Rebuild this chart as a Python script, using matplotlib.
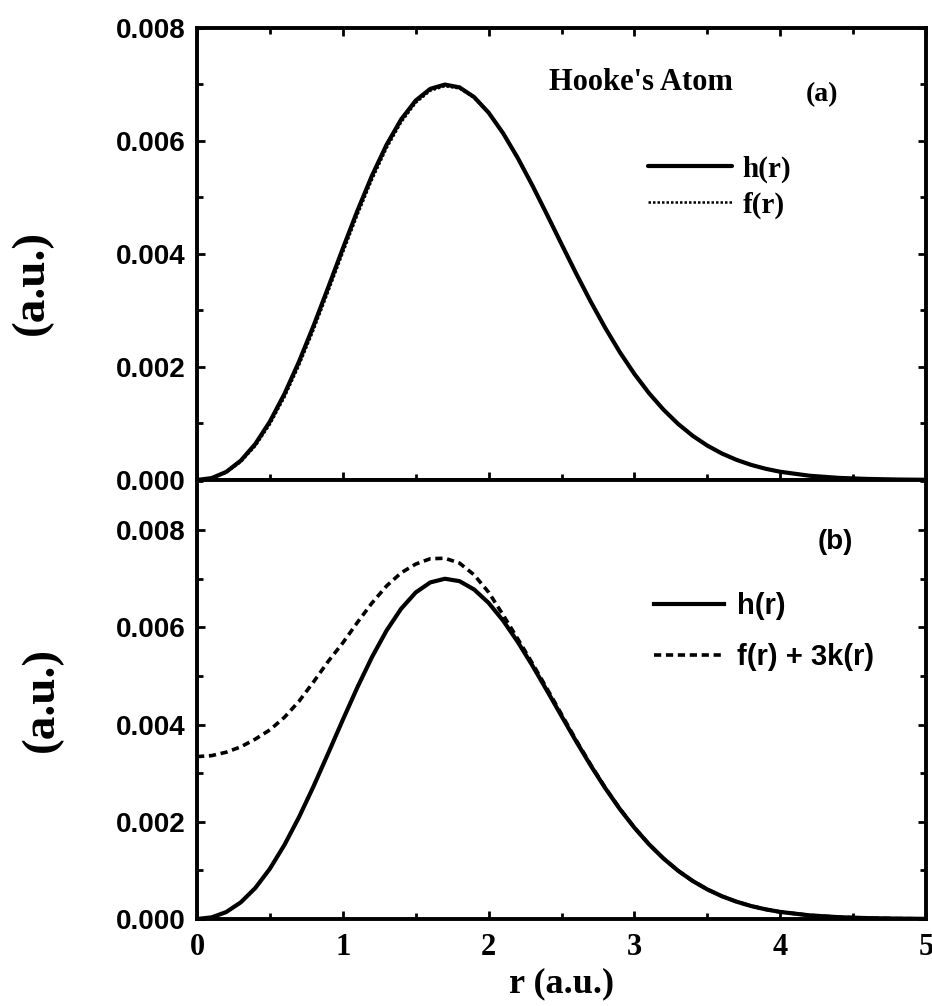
import numpy as np
import matplotlib.pyplot as plt
from matplotlib.ticker import MultipleLocator, FormatStrFormatter

# r grid (a.u.) and curves, values in units of 1e-3
r = [0.0, 0.1, 0.2, 0.3, 0.4, 0.5, 0.6, 0.7, 0.8, 0.9,
     1.0, 1.1, 1.2, 1.3, 1.4, 1.5, 1.6, 1.7, 1.8, 1.9,
     2.0, 2.1, 2.2, 2.3, 2.4, 2.5, 2.6, 2.7, 2.8, 2.9,
     3.0, 3.1, 3.2, 3.3, 3.4, 3.5, 3.6, 3.7, 3.8, 3.9,
     4.0, 4.2, 4.4, 4.6, 4.8, 5.0]

h_r = [0.000, 0.033, 0.142, 0.342, 0.638, 1.035, 1.526, 2.098, 2.734, 3.410,
       4.097, 4.765, 5.387, 5.933, 6.382, 6.716, 6.923, 6.998, 6.949, 6.778,
       6.501, 6.134, 5.698, 5.213, 4.698, 4.174, 3.655, 3.157, 2.690, 2.261,
       1.876, 1.536, 1.242, 0.991, 0.781, 0.608, 0.468, 0.356, 0.267, 0.198,
       0.145, 0.075, 0.037, 0.018, 0.008, 0.003]

f_r = [0.000, 0.030, 0.130, 0.318, 0.600, 0.985, 1.465, 2.030, 2.660, 3.335,
       4.020, 4.690, 5.315, 5.870, 6.330, 6.675, 6.890, 6.970, 6.930, 6.765,
       6.495, 6.134, 5.698, 5.213, 4.698, 4.174, 3.655, 3.157, 2.690, 2.261,
       1.876, 1.536, 1.242, 0.991, 0.781, 0.608, 0.468, 0.356, 0.267, 0.198,
       0.145, 0.075, 0.037, 0.018, 0.008, 0.003]

f3k_r = [3.340, 3.360, 3.430, 3.540, 3.700, 3.890, 4.150, 4.480, 4.880, 5.300,
         5.680, 6.100, 6.500, 6.850, 7.120, 7.300, 7.410, 7.420, 7.320, 7.080,
         6.720, 6.250, 5.760, 5.260, 4.740, 4.210, 3.680, 3.175, 2.700, 2.268,
         1.880, 1.538, 1.243, 0.991, 0.781, 0.608, 0.468, 0.356, 0.267, 0.198,
         0.145, 0.075, 0.037, 0.018, 0.008, 0.003]

r = np.array(r)
h_r = np.array(h_r) * 1e-3
f_r = np.array(f_r) * 1e-3
f3k_r = np.array(f3k_r) * 1e-3

SERIF = 'Liberation Serif'
SANS = 'Liberation Sans'

fig = plt.figure(figsize=(9.32, 10.06), dpi=100)
ax1 = fig.add_axes([0.2114, 0.5229, 0.7822, 0.4493])
ax2 = fig.add_axes([0.2114, 0.0865, 0.7822, 0.4364])


def style_axis(ax, ytop, show_top):
    ax.set_xlim(0, 5)
    ax.set_ylim(0, ytop)
    ax.xaxis.set_major_locator(MultipleLocator(1))
    ax.xaxis.set_minor_locator(MultipleLocator(0.5))
    ax.yaxis.set_major_locator(MultipleLocator(0.002))
    ax.yaxis.set_minor_locator(MultipleLocator(0.001))
    ax.yaxis.set_major_formatter(FormatStrFormatter('%.3f'))
    for s in ax.spines.values():
        s.set_linewidth(2.8)
    ax.tick_params(which='both', direction='in', right=True, top=show_top,
                   width=2.0)
    ax.tick_params(which='major', length=6)
    ax.tick_params(which='minor', length=4)
    ax.tick_params(axis='y', which='major', pad=8)
    for lab in ax.get_yticklabels():
        lab.set_fontfamily(SANS)
        lab.set_fontweight('bold')
        lab.set_fontsize(20)


style_axis(ax1, 0.008, True)
style_axis(ax2, 0.00903, False)
ax1.tick_params(axis='x', labelbottom=False)
ax2.tick_params(axis='x', which='major', pad=10)
for lab in ax2.get_xticklabels():
    lab.set_fontfamily(SERIF)
    lab.set_fontweight('bold')
    lab.set_fontsize(22)

# panel (a)
ax1.plot(r, h_r, color='black', lw=3.0, solid_capstyle='round', label='h(r)')
ax1.plot(r, f_r, color='black', lw=1.8, linestyle=(0, (1, 0.8)), label='f(r)')
ax1.legend(loc='upper left', bbox_to_anchor=(0.618, 0.718), frameon=False,
           handlelength=2.9, handletextpad=0.35, labelspacing=0.3,
           borderpad=0, borderaxespad=0,
           prop={'family': SERIF, 'weight': 'bold', 'size': 21})
ax1.text(0.609, 0.880, "Hooke's Atom", transform=ax1.transAxes, ha='center',
         va='center', fontsize=22, fontfamily=SERIF, fontweight='bold')
ax1.text(0.857, 0.852, '(a)', transform=ax1.transAxes, ha='center',
         va='center', fontsize=20, fontfamily=SERIF, fontweight='bold')
ax1.set_ylabel('(a.u.)', fontsize=34, fontfamily=SERIF, fontweight='bold')
ax1.yaxis.set_label_coords(-0.197, 0.436)

# panel (b)
ax2.plot(r, h_r, color='black', lw=3.0, label='h(r)')
ax2.plot(r, f3k_r, color='black', lw=2.6, linestyle=(0, (2.0, 1.3)),
         label='f(r) + 3k(r)')
ax2.legend(loc='upper left', bbox_to_anchor=(0.627, 0.745), frameon=False,
           handlelength=2.4, handletextpad=0.45, labelspacing=0.8,
           borderpad=0, borderaxespad=0,
           prop={'family': SANS, 'weight': 'bold', 'size': 21})
ax2.text(0.875, 0.859, '(b)', transform=ax2.transAxes, ha='center',
         va='center', fontsize=20, fontfamily=SANS, fontweight='bold')
ax2.set_ylabel('(a.u.)', fontsize=34, fontfamily=SERIF, fontweight='bold')
ax2.yaxis.set_label_coords(-0.184, 0.5)
ax2.set_xlabel('r (a.u.)', fontsize=26, fontfamily=SERIF, fontweight='bold',
               labelpad=4)

fig.savefig('out.png', dpi=100)
